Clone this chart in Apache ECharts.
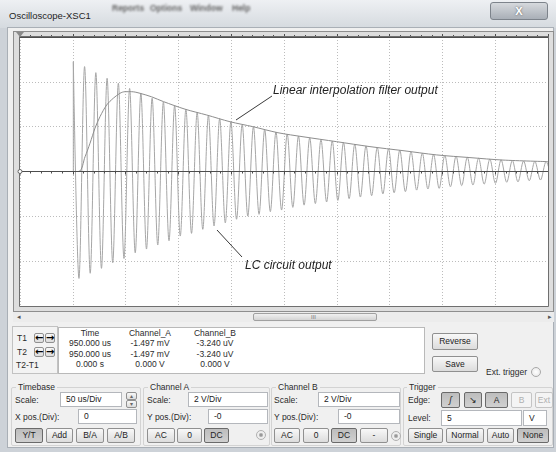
<!DOCTYPE html>
<html><head><meta charset="utf-8">
<script src="https://cdn.jsdelivr.net/npm/echarts@6/dist/echarts.min.js"></script>
<style>
html,body{margin:0;padding:0;width:556px;height:452px;overflow:hidden;background:#cdd2d8;}
.a{position:absolute;box-sizing:border-box;}
.t{position:absolute;white-space:nowrap;font-family:"Liberation Sans",Arial,sans-serif;font-size:8.5px;color:#2b2b2b;line-height:12px;height:12px;}
.inp{background:#fff;border:1px solid #b4b7bc;font-family:"Liberation Sans",Arial,sans-serif;font-size:8.5px;color:#222;padding-left:5px;white-space:nowrap;}
.btn{background:linear-gradient(#f8f8f8,#dcdcdc);border:1px solid #909090;border-radius:2px;text-align:center;font-family:"Liberation Sans",Arial,sans-serif;font-size:8.5px;color:#222;white-space:nowrap;}
.btn.on{background:linear-gradient(#bdbdbd,#d0d0d0);border-color:#6a6a6a;}
.btn.dis{color:#b0b0b0;border-color:#c4c4c4;background:#f4f4f4;}
.grp{border:1px solid #d3d3d3;border-radius:2px;}
</style></head>
<body>
<div id="ui"></div>
<div id="chart" style="position:absolute;left:13px;top:31px;width:541px;height:281px;"></div>
<script>
// ---- data ----
const usPerDiv = 50;            // Timebase 50 us/Div, 10 divisions
const timeMaxUs = 500;
const voltsPerDiv = 2;          // Channel scale 2 V/Div, 6 divisions shown
const voltMax = 6;
const lcStartUs = 50.5;         // LC ringing starts one division in
const lcHalfPeriodUs = 5.33;    // spacing between successive extrema
const lcPeaks = [4.90,4.68,4.41,4.16,3.94,3.71,3.49,3.27,3.10,2.94,2.78,2.63,2.50,2.36,2.22,2.11,2.00,1.88,1.76,1.67,1.58,1.50,1.42,1.36,1.29,1.22,1.14,1.07,1.01,0.95,0.88,0.82,0.76,0.72,0.68,0.63,0.59,0.55,0.52,0.49,0.47,0.45,0.44];
const lcValleys = [-4.77,-4.54,-4.32,-4.07,-3.88,-3.63,-3.46,-3.28,-3.09,-2.88,-2.76,-2.58,-2.43,-2.29,-2.13,-1.99,-1.91,-1.79,-1.72,-1.60,-1.50,-1.43,-1.36,-1.29,-1.21,-1.14,-1.08,-1.00,-0.95,-0.90,-0.83,-0.78,-0.75,-0.68,-0.63,-0.60,-0.56,-0.53,-0.48,-0.46,-0.41,-0.38,-0.37];
const filterTimes = [0,55.2,61.6,66.3,71.0,75.8,82.1,88.4,94.7,99.4,105.8,113.6,124.7,135.7,156.3,176.8,198.9,220.5,244.3,268.0,299.9,331.4,362.7,394.6,426.1,457.4,500];
const filterVolts = [0,0,0.66,1.26,1.93,2.45,2.97,3.27,3.49,3.56,3.56,3.49,3.33,3.12,2.78,2.52,2.22,2.00,1.73,1.55,1.33,1.11,0.93,0.74,0.62,0.51,0.44];
const readoutHeader = ["Time","Channel_A","Channel_B"];
const readoutRows = [["950.000 us","-1.497 mV","-3.240 uV"],["950.000 us","-1.497 mV","-3.240 uV"],["0.000 s","0.000 V","0.000 V"]];
const annotations = ["Linear interpolation filter output","LC circuit output"];

// ---- window chrome (HTML) ----
const ui = document.getElementById('ui');
function box(x,y,w,h,cls,text,st){const d=document.createElement('div');d.className='a '+(cls||'');Object.assign(d.style,{left:x+'px',top:y+'px',width:w+'px',height:h+'px',lineHeight:(h-2)+'px'});if(text!=null)d.textContent=text;if(st)Object.assign(d.style,st);ui.appendChild(d);return d;}
function lab(x,cy,text,st){const d=document.createElement('div');d.className='t';d.style.left=x+'px';d.style.top=(cy-6)+'px';d.textContent=text;if(st)Object.assign(d.style,st);ui.appendChild(d);return d;}
function clab(cx,cy,text,st){return lab(cx-40,cy,text,Object.assign({width:'80px',textAlign:'center'},st||{}));}

// title bar
box(0,0,556,28,'',null,{background:'linear-gradient(#eef0f3,#d5dadf)'});
box(7,27,547,421,'',null,{background:'#f0f0f0',border:'1px solid #a9afb6'});
lab(9,16,'Oscilloscope-XSC1',{fontSize:'9.5px',color:'#1e1e1e'});
['Reports','Options','Window','Help'].forEach((s,i)=>lab([112,150,190,232][i],8,s,{filter:'blur(1.3px)',color:'#666',fontWeight:'bold'}));
box(490,2,58,18,'',null,{background:'linear-gradient(#d6d9dd,#a9afb7)',border:'1px solid #7d838b',borderRadius:'3px'});
lab(508,11,'X',{width:'22px',textAlign:'center',color:'#fff',fontWeight:'bold',fontSize:'11px',textShadow:'0 0 2px #555'});

// plot frame + scrollbar
box(13,31,541,281,'',null,{background:'#dedede',border:'1px solid #8e8e8e'});
box(13,312,541,10,'',null,{background:'#ececec'});
lab(17,317,'\u25C2',{fontSize:'7px',color:'#555'});
box(253,313,124,8,'',null,{background:'linear-gradient(#f0f0f0,#d4d4d4)',border:'1px solid #a0a0a0',borderRadius:'2px'});
lab(311,317,'III',{fontSize:'6px',color:'#777'});
lab(548,317,'\u25B8',{fontSize:'7px',color:'#555'});

// readout
box(12,326,46,48,'',null,{background:'#f3f3f3',border:'1px solid #c2c2c2'});
lab(17,338,'T1');lab(17,352,'T2');lab(16,365,'T2-T1');
[[338,'\u2190',34],[338,'\u2192',45],[352,'\u2190',34],[352,'\u2192',45]].forEach(a=>box(a[2],a[0]-5,10,10,'btn',a[1],{fontWeight:'bold',fontSize:'10px',lineHeight:'8px',padding:0,color:'#000',fontFamily:'"DejaVu Sans",sans-serif'}));
box(58,327,367,47,'',null,{background:'#fff',border:'1px solid #b9b9b9'});
const colX=[90,150,215], rowY=[333,343,354,364];
readoutHeader.forEach((h,i)=>clab(colX[i],rowY[0],h));
readoutRows.forEach((r,j)=>r.forEach((v,i)=>clab(colX[i],rowY[j+1],v)));
box(432,333,46,17,'btn','Reverse');
box(432,356,46,16,'btn','Save');
lab(486,372,'Ext. trigger');
box(531,367,10,10,'',null,{borderRadius:'50%',border:'1px solid #a8a8a8',background:'radial-gradient(#fff,#e4e4e4)'});

// group boxes
box(11,387,130,59,'grp');box(143,387,127,59,'grp');box(271,387,130,59,'grp');box(403,387,150,59,'grp');
[['Timebase',16],['Channel A',148],['Channel B',276],['Trigger',407]].forEach(g=>lab(g[1],387,g[0],{background:'#f0f0f0',padding:'0 2px'}));
// timebase
lab(15,400,'Scale:');box(60,392,62,15,'inp','50 us/Div');
box(126,392,11,8,'btn','\u25B4',{fontSize:'6px',lineHeight:'6px',color:'#666'});box(126,400,11,8,'btn','\u25BE',{fontSize:'6px',lineHeight:'6px',color:'#666'});
lab(15,417,'X pos.(Div):');box(78,409,59,15,'inp','0');
box(15,428,28,15,'btn on','Y/T');box(46,428,27,15,'btn','Add');box(76,428,28,15,'btn','B/A');box(107,428,28,15,'btn','A/B');
// channel A
lab(147,400,'Scale:');box(188,392,80,15,'inp','2  V/Div');
lab(147,417,'Y pos.(Div):');box(208,409,60,15,'inp','-0');
box(147,428,28,15,'btn','AC');box(177,428,25,15,'btn','0');box(204,428,25,15,'btn on','DC');
box(256,430,10,10,'',null,{borderRadius:'50%',border:'1px solid #b0b0b0',background:'radial-gradient(#999 20%,#eee 45%)'});
// channel B
lab(274,400,'Scale:');box(318,392,82,15,'inp','2  V/Div');
lab(274,417,'Y pos.(Div):');box(338,409,62,15,'inp','-0');
box(274,428,26,15,'btn','AC');box(303,428,26,15,'btn','0');box(331,428,26,15,'btn on','DC');box(360,428,28,15,'btn','-');
box(391,431,10,10,'',null,{borderRadius:'50%',border:'1px solid #b0b0b0',background:'radial-gradient(#999 20%,#eee 45%)'});
// trigger
lab(408,400,'Edge:');
box(441,392,19,16,'btn on','\u0283',{fontStyle:'italic'});box(464,392,18,16,'btn on','\u2198');box(485,392,23,16,'btn on','A');box(511,392,21,16,'btn dis','B');box(535,392,18,16,'btn dis','Ext');
lab(408,418,'Level:');box(441,410,81,16,'inp','5');box(523,410,24,16,'inp','V');
box(408,428,35,15,'btn','Single');box(446,428,38,15,'btn','Normal');box(487,428,27,15,'btn','Auto');box(517,428,32,15,'btn on','None');

// ---- chart ----
const lcLeadIn = [[0,0],[lcStartUs,0],[lcStartUs,lcPeaks[0]]];
const lcRing = [];
for (let i=0;i<lcPeaks.length;i++){
  lcRing.push([lcStartUs+2*i*lcHalfPeriodUs, lcPeaks[i]]);
  if (i<lcValleys.length) lcRing.push([lcStartUs+(2*i+1)*lcHalfPeriodUs, lcValleys[i]]);
}
const filterData = filterTimes.map((t,i)=>[t,filterVolts[i]]);

const chart = echarts.init(document.getElementById('chart'), null, {renderer:'canvas'});
const centreAxis = (pos)=>({type:'value',min:0,max:timeMaxUs,interval:usPerDiv,position:pos,z:6,
  axisLine:{show:true,onZero:true,lineStyle:{color:'#4d4d4d',width:1}},
  axisTick:{show:true,length:3,lineStyle:{color:'#4d4d4d'}},
  minorTick:{show:true,splitNumber:5,length:2,lineStyle:{color:'#4d4d4d'}},
  axisLabel:{show:false},splitLine:{show:false}});
chart.setOption({
  animation:false,
  backgroundColor:'transparent',
  grid:{left:7,top:6,width:528,height:269,show:true,backgroundColor:'#ffffff',borderWidth:0},
  xAxis:[
    {type:'value',min:0,max:timeMaxUs,interval:usPerDiv,position:'bottom',z:1,
     axisLine:{show:false,onZero:false},axisTick:{show:false},axisLabel:{show:false},
     splitLine:{show:true,lineStyle:{color:'#bcbcbc',type:[1,2]}}},
    centreAxis('bottom'),
    centreAxis('top')
  ],
  yAxis:{type:'value',min:-voltMax,max:voltMax,interval:voltsPerDiv,z:1,
    axisLine:{show:false},axisTick:{show:false},axisLabel:{show:false},
    splitLine:{show:true,lineStyle:{color:'#bcbcbc',type:[1,2]}}},
  series:[
    {name:'LC lead-in',type:'line',xAxisIndex:0,data:lcLeadIn,showSymbol:false,symbol:'none',
     lineStyle:{color:'#a6a6a6',width:1},z:3},
    {name:'LC circuit output',type:'line',xAxisIndex:0,data:lcRing,showSymbol:false,symbol:'none',
     smooth:0.33,lineStyle:{color:'#a6a6a6',width:1},z:3},
    {name:'Linear interpolation filter output',type:'line',xAxisIndex:0,data:filterData,showSymbol:false,symbol:'none',
     smooth:0.3,lineStyle:{color:'#8e8e8e',width:1},z:4}
  ],
  graphic:[
    {type:'rect',shape:{x:6.5,y:5.5,width:529,height:270},style:{fill:null,stroke:'#6f6f6f',lineWidth:1},z:20},
    {type:'polygon',shape:{points:[[3,1],[11,1],[7,6]]},style:{fill:'#8a8a8a'},z:21},
    {type:'circle',shape:{cx:7,cy:140.5,r:2},style:{fill:'#fff',stroke:'#666',lineWidth:1},z:21},
    {type:'line',shape:{x1:223,y1:89,x2:259,y2:65},style:{stroke:'#3a3a3a',lineWidth:1},z:21},
    {type:'text',x:260,y:60,style:{text:annotations[0],font:'italic 12px "Liberation Sans", Arial, sans-serif',fill:'#222',verticalAlign:'middle'},z:21},
    {type:'line',shape:{x1:204,y1:199,x2:229,y2:226},style:{stroke:'#3a3a3a',lineWidth:1},z:21},
    {type:'text',x:232,y:235,style:{text:annotations[1],font:'italic 12px "Liberation Sans", Arial, sans-serif',fill:'#222',verticalAlign:'middle'},z:21}
  ]
});
</script>
</body></html>
